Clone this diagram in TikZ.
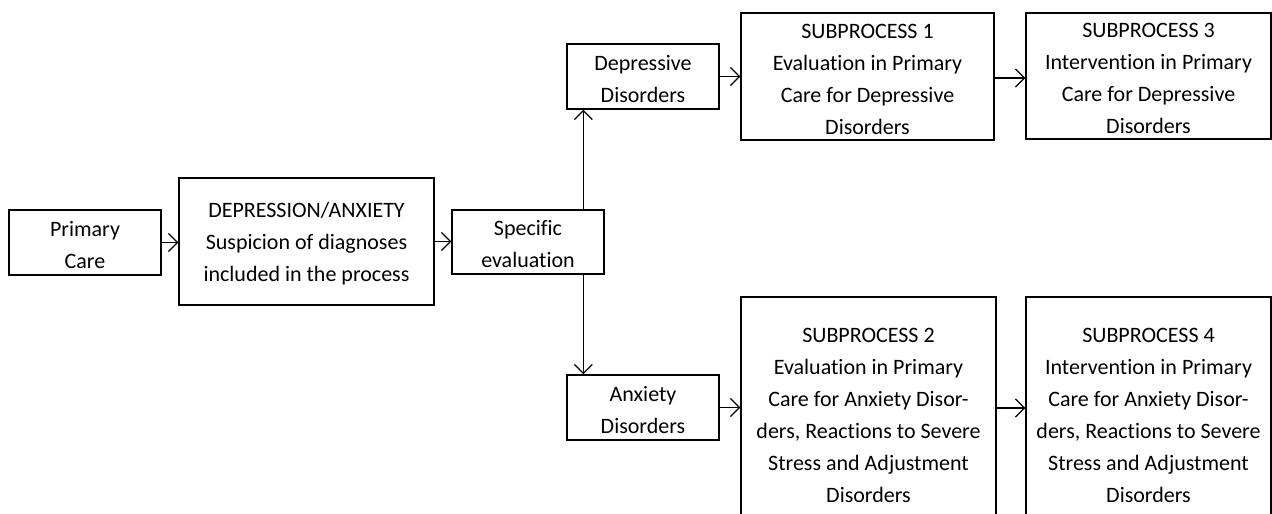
\documentclass[tikz,border=0pt]{standalone}
\usepackage{fontspec}
\setmainfont{Carlito}[Ligatures=NoCommon]
\usetikzlibrary{arrows.meta,calc}
\tikzset{
  box/.style={draw, line width=1.3pt, inner sep=0pt},
  txt/.style={align=center, inner sep=0pt, yshift=-2.5pt,
    font=\fontsize{22}{32}\selectfont},
  arr/.style={line width=1.3pt, -{Straight Barb[length=9pt,width=18pt,line width=1.3pt]}}
}
\begin{document}
\begin{tikzpicture}[x=1pt,y=-1pt]
\useasboundingbox (0,0) rectangle (1272,514);
\clip (0,0) rectangle (1272,514);

\node[box, minimum width=152pt, minimum height=65pt,
  label={[txt]center:{Primary\\Care}}] (pc) at (85,242.5) {};
\node[box, minimum width=255pt, minimum height=127pt,
  label={[txt]center:{DEPRESSION/ANXIETY\\Suspicion of diagnoses\\included in the process}}] (da) at (306.5,241.5) {};
\node[box, minimum width=152pt, minimum height=64pt,
  label={[txt]center:{Specific\\evaluation}}] (se) at (528,242) {};

\node[box, minimum width=152pt, minimum height=65pt,
  label={[txt]center:{Depressive\\Disorders}}] (dd) at (643,76.5) {};
\node[box, minimum width=253pt, minimum height=127pt,
  label={[txt]center:{SUBPROCESS 1\\Evaluation in Primary\\Care for Depressive\\Disorders}}] (s1) at (867.5,76.5) {};
\node[box, minimum width=245pt, minimum height=126pt,
  label={[txt]center:{SUBPROCESS 3\\Intervention in Primary\\Care for Depressive\\Disorders}}] (s3) at (1148.5,76) {};

\node[box, minimum width=152pt, minimum height=65pt,
  label={[txt]center:{Anxiety\\Disorders}}] (ad) at (643,407.5) {};
\node[box, minimum width=255pt, minimum height=232pt,
  label={[txt]center:{SUBPROCESS 2\\Evaluation in Primary\\Care for Anxiety Disor-\\ders, Reactions to Severe\\Stress and Adjustment\\Disorders}}] (s2) at (868.5,413) {};
\node[box, minimum width=245pt, minimum height=232pt,
  label={[txt]center:{SUBPROCESS 4\\Intervention in Primary\\Care for Anxiety Disor-\\ders, Reactions to Severe\\Stress and Adjustment\\Disorders}}] (s4) at (1148.5,413) {};

% main flow
\draw[arr] (pc.east) -- (pc.east -| da.west);
\draw[arr] (da.east) -- (da.east -| se.west);
% branches from the specific evaluation
\draw[arr] ([xshift=17pt]dd.south west |- se.north) -- ([xshift=17pt]dd.south west);
\draw[arr] ([xshift=17pt]ad.north west |- se.south) -- ([xshift=17pt]ad.north west);
% subprocess chains
\draw[arr] (dd.east) -- (dd.east -| s1.west);
\draw[arr] ([yshift=-1.5pt]s1.east) -- ([yshift=-1.5pt]s1.east -| s3.west);
\draw[arr] (ad.east) -- (ad.east -| s2.west);
\draw[arr] ([yshift=5pt]s2.east) -- ([yshift=5pt]s2.east -| s4.west);
\end{tikzpicture}
\end{document}
